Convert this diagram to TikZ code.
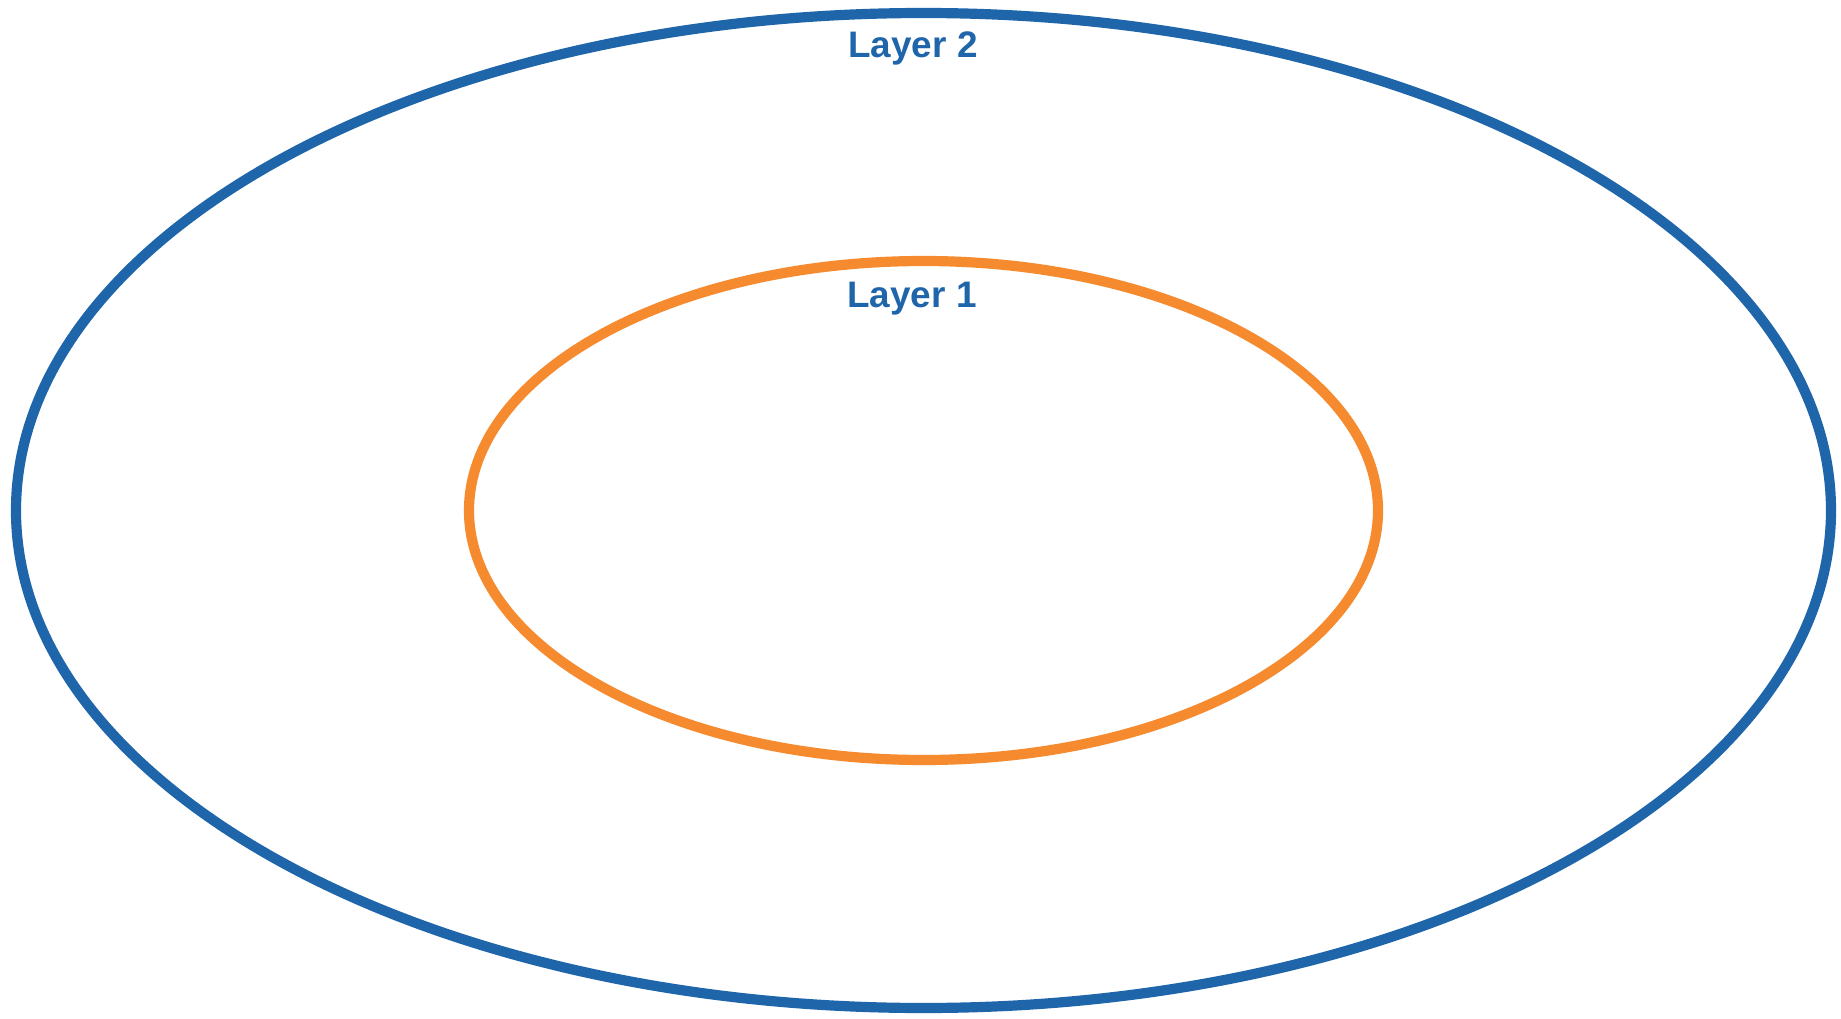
\documentclass[tikz,border=0pt]{standalone}
\usepackage{fontspec}
\setmainfont{Liberation Sans}
\usepackage{tikz}
\usetikzlibrary{backgrounds}

\definecolor{layerblue}{HTML}{1F65AA}
\definecolor{layerorange}{HTML}{F58A2E}

\begin{document}
\begin{tikzpicture}
  \useasboundingbox (0,0) rectangle (18.41,10.18);
  \draw (9.235,5.075) coordinate (centre);
  \draw[color=layerblue,line width=2.9pt] (centre) ellipse (9.075 and 4.975);
  \draw[color=layerorange,line width=2.9pt] (centre) ellipse (4.545 and 2.495);
  \draw (9.13,9.6) node[anchor=base] (layer2) {\fontsize{10.5}{12}\selectfont\bfseries\textcolor{layerblue}{Layer 2}};
  \draw (9.12,7.1) node[anchor=base] (layer1) {\fontsize{10.5}{12}\selectfont\bfseries\textcolor{layerblue}{Layer 1}};
\end{tikzpicture}
\end{document}
